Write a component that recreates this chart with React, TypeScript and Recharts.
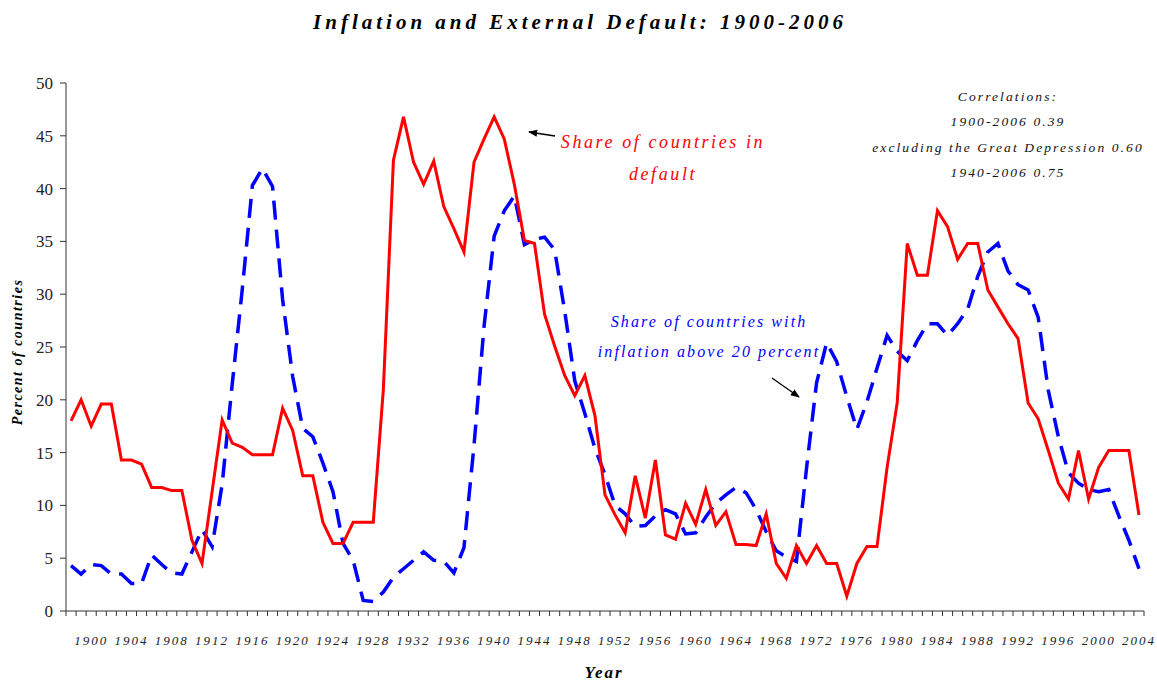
import { LineChart, Line, XAxis, YAxis } from "recharts";

const years = Array.from({ length: 107 }, (_, i) => 1898 + i);

const defaultShare = [
  18.0, 20.0, 17.5, 19.6, 19.6, 14.3, 14.3, 13.9, 11.7, 11.7,
  11.4, 11.4, 6.7, 4.5, 11.3, 18.1, 15.9, 15.5, 14.8, 14.8,
  14.8, 19.2, 17.1, 12.8, 12.8, 8.4, 6.4, 6.4, 8.4, 8.4,
  8.4, 21.0, 42.7, 46.8, 42.5, 40.4, 42.6, 38.3, 36.2, 34.0,
  42.5, 44.7, 46.8, 44.7, 40.4, 35.1, 34.8, 28.1, 25.1, 22.3,
  20.4, 22.3, 18.5, 11.0, 9.1, 7.4, 12.8, 8.8, 14.3, 7.2,
  6.8, 10.2, 8.2, 11.5, 8.1, 9.4, 6.3, 6.3, 6.2, 9.2,
  4.5, 3.1, 6.2, 4.5, 6.2, 4.5, 4.5, 1.4, 4.5, 6.1,
  6.1, 13.6, 19.7, 34.8, 31.8, 31.8, 37.9, 36.4, 33.3, 34.8,
  34.8, 30.4, 28.8, 27.2, 25.8, 19.7, 18.2, 15.2, 12.1, 10.6,
  15.2, 10.6, 13.6, 15.2, 15.2, 15.2, 9.1,
];

const inflationShare = [
  4.3, 3.5, 4.4, 4.3, 3.5, 3.5, 2.6, 2.6, 5.3, 4.4,
  3.6, 3.5, 5.6, 7.7, 6.1, 12.0, 21.5, 30.5, 40.3, 41.9,
  40.2, 29.5, 22.2, 17.3, 16.5, 14.0, 11.3, 6.4, 4.8, 1.0,
  0.9, 1.8, 3.2, 4.0, 4.8, 5.6, 4.8, 4.7, 3.6, 6.0,
  15.7, 27.0, 35.5, 37.9, 39.3, 34.7, 35.2, 35.4, 34.2, 28.4,
  21.8, 18.7, 15.4, 12.9, 10.0, 9.2, 8.0, 8.1, 9.0, 9.6,
  9.2, 7.3, 7.4, 8.9, 10.2, 11.0, 11.7, 11.2, 9.6, 7.5,
  5.7, 5.1, 4.7, 13.5, 21.6, 25.4, 23.6, 20.3, 17.2, 19.8,
  23.0, 26.1, 24.6, 23.7, 25.6, 27.2, 27.2, 26.1, 27.2, 28.6,
  31.7, 34.0, 34.8, 32.2, 30.9, 30.4, 27.8, 20.9, 16.5, 13.1,
  12.1, 11.5, 11.3, 11.5, 9.0, 6.7, 4.0,
];

const yearLabels = [
  1900, 1904, 1908, 1912, 1916, 1920, 1924, 1928, 1932, 1936, 1940, 1944, 1948,
  1952, 1956, 1960, 1964, 1968, 1972, 1976, 1980, 1984, 1988, 1992, 1996, 2000, 2004,
];

const yTicks = [0, 5, 10, 15, 20, 25, 30, 35, 40, 45, 50];

const correlations = [
  "Correlations:",
  "1900-2006 0.39",
  "excluding the Great Depression 0.60",
  "1940-2006  0.75",
];

const data = years.map((year, i) => ({
  year,
  defaultShare: defaultShare[i],
  inflationShare: inflationShare[i],
}));

// category boundaries, where the tick marks sit
const boundaryTicks = [...years.map((y) => y - 0.5), years[years.length - 1] + 0.5];
const xDomain = [boundaryTicks[0], boundaryTicks[boundaryTicks.length - 1]];

const serif = "'Liberation Serif', 'Times New Roman', serif";
const axisColor = "#333";

export default function App() {
  return (
    <div style={{ position: "absolute", left: 0, top: 0, width: 1157, height: 682, background: "#fff" }}>
      <LineChart width={1157} height={682} data={data} margin={{ top: 83, right: 13, bottom: 0, left: 0 }}>
        <XAxis
          xAxisId="grid"
          type="number"
          dataKey="year"
          domain={xDomain}
          ticks={boundaryTicks}
          interval={0}
          tickFormatter={() => ""}
          tickSize={5}
          height={10}
          stroke={axisColor}
          allowDataOverflow
        />
        <XAxis
          xAxisId="labels"
          type="number"
          dataKey="year"
          domain={xDomain}
          ticks={yearLabels}
          interval={0}
          axisLine={false}
          tickLine={false}
          tickSize={0}
          tickMargin={15}
          height={61}
          tick={{ fontSize: 13, fontStyle: "italic", fontFamily: serif, fill: "#222", letterSpacing: 2 }}
          allowDataOverflow
        />
        <YAxis
          domain={[0, 50]}
          ticks={yTicks}
          interval={0}
          width={66}
          tickSize={6}
          tickMargin={7}
          stroke={axisColor}
          tick={{ fontSize: 17, fontFamily: serif, fill: "#222" }}
        />
        <Line
          xAxisId="grid"
          type="linear"
          dataKey="inflationShare"
          stroke="#0000ff"
          strokeWidth={3.5}
          strokeDasharray="19 10"
          dot={false}
          isAnimationActive={false}
        />
        <Line
          xAxisId="grid"
          type="linear"
          dataKey="defaultShare"
          stroke="#ff0000"
          strokeWidth={3}
          dot={false}
          isAnimationActive={false}
        />
      </LineChart>

      <svg
        width={1157}
        height={682}
        style={{ position: "absolute", left: 0, top: 0, pointerEvents: "none" }}
        fontFamily={serif}
      >
        <defs>
          <marker id="head" viewBox="0 0 10 10" refX="9" refY="5" markerWidth="7" markerHeight="7" orient="auto">
            <path d="M0,1 L10,5 L0,9 z" fill="#000" />
          </marker>
        </defs>

        <text x={580} y={29} textAnchor="middle" fontSize={21} fontWeight="bold" fontStyle="italic" letterSpacing={4}>
          Inflation and External Default: 1900-2006
        </text>

        {correlations.map((line, i) => (
          <text
            key={line}
            x={1008}
            y={101 + i * 25.3}
            textAnchor="middle"
            fontSize={13.5}
            fontStyle="italic"
            letterSpacing={2.1}
            fill="#111"
          >
            {line}
          </text>
        ))}

        <text x={663} y={148} textAnchor="middle" fontSize={18} fontStyle="italic" letterSpacing={2.6} fill="#ff0000">
          Share of countries in
        </text>
        <text x={663} y={180} textAnchor="middle" fontSize={18} fontStyle="italic" letterSpacing={2.6} fill="#ff0000">
          default
        </text>
        <line x1={555} y1={136} x2={529} y2={132} stroke="#000" strokeWidth={1.3} markerEnd="url(#head)" />

        <text x={709} y={327} textAnchor="middle" fontSize={16} fontStyle="italic" letterSpacing={2.1} fill="#0000ff">
          Share of countries with
        </text>
        <text x={709} y={357} textAnchor="middle" fontSize={16} fontStyle="italic" letterSpacing={2.1} fill="#0000ff">
          inflation above 20 percent
        </text>
        <line x1={772} y1={378} x2={799} y2={397} stroke="#000" strokeWidth={1.3} markerEnd="url(#head)" />

        <text
          transform="translate(22, 352) rotate(-90)"
          textAnchor="middle"
          fontSize={14}
          fontWeight="bold"
          fontStyle="italic"
          letterSpacing={1.5}
        >
          Percent of countries
        </text>
        <text x={604} y={678} textAnchor="middle" fontSize={17} fontWeight="bold" fontStyle="italic" letterSpacing={2}>
          Year
        </text>
      </svg>
    </div>
  );
}
